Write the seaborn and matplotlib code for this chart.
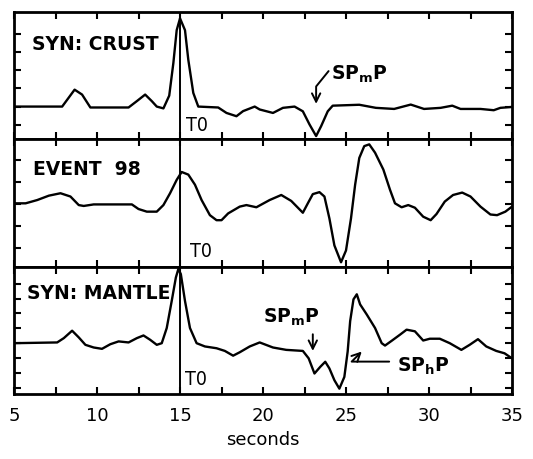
import numpy as np
import pandas as pd
import matplotlib
matplotlib.use("Agg")
import matplotlib.pyplot as plt
import seaborn as sns
from matplotlib.ticker import MultipleLocator

# ---------------- data (time in seconds, relative amplitude) ----------------
crust_t = [5.0, 7.9, 8.65, 9.1, 9.6, 10.1, 11.9, 12.4, 12.9, 13.3, 13.6, 14.0, 14.35, 14.6,
           14.8, 15.0, 15.3, 15.5, 15.8, 16.1, 17.3, 17.8, 18.4, 18.8, 19.5, 19.8, 20.6, 21.2,
           21.9, 22.4, 22.8, 23.2, 23.5, 23.9, 24.2, 25.8, 26.8, 27.9, 28.9, 29.7, 30.7, 31.4,
           31.9, 33.1, 33.9, 34.3, 35.0]
crust_a = [0.0, 0.0, 0.93, 0.66, -0.05, -0.05, -0.05, 0.3, 0.66, 0.3, 0.0, -0.1, 0.6, 2.4,
           4.2, 4.85, 4.2, 2.57, 0.75, 0.0, -0.05, -0.35, -0.53, -0.25, 0.0, -0.16, -0.35, -0.07,
           0.0, -0.26, -0.98, -1.62, -1.08, -0.26, 0.05, 0.1, -0.07, -0.13, 0.11, -0.13, -0.07, 0.05,
           -0.13, -0.13, -0.2, -0.07, -0.02]

event_t = [5.0, 5.7, 6.4, 7.1, 7.8, 8.4, 8.9, 9.2, 9.8, 12.1, 12.5, 13.0, 13.6, 14.0, 14.4,
           14.8, 15.1, 15.5, 15.9, 16.3, 16.8, 17.2, 17.5, 17.9, 18.6, 19.0, 19.6, 20.4, 21.1, 21.7,
           22.4, 22.7, 23.0, 23.4, 23.7, 24.0, 24.3, 24.7, 25.0, 25.3, 25.55, 25.8, 26.1, 26.4, 26.75,
           27.25, 27.65, 27.95, 28.35, 28.75, 29.15, 29.65, 30.1, 30.45, 30.95, 31.45, 32.0, 32.5,
           33.1, 33.7, 34.1, 34.6, 35.0]
event_a = [0.03, 0.03, 0.18, 0.38, 0.49, 0.34, -0.05, -0.09, -0.02, -0.02, -0.23, -0.35, -0.35,
           -0.05, 0.49, 1.1, 1.46, 1.34, 0.88, 0.18, -0.51, -0.74, -0.74, -0.43, -0.12, -0.05, -0.15,
           0.18, 0.41, 0.14, -0.4, 0.03, 0.45, 0.54, 0.34, -0.66, -1.89, -2.66, -2.12, -0.66, 0.88,
           2.1, 2.64, 2.72, 2.34, 1.57, 0.65, 0.03, -0.15, -0.05, -0.17, -0.58, -0.74, -0.46, 0.11,
           0.41, 0.52, 0.34, -0.12, -0.48, -0.51, -0.35, -0.12]

mantle_t = [5.0, 7.6, 8.0, 8.5, 8.9, 9.3, 9.8, 10.3, 10.8, 11.3, 11.9, 12.4, 12.8, 13.2, 13.6,
            13.9, 14.2, 14.5, 14.75, 14.9, 15.05, 15.3, 15.6, 16.0, 16.5, 17.2, 17.7, 18.2, 18.6,
            19.2, 19.8, 20.6, 21.4, 22.4, 22.75, 23.1, 23.45, 23.75, 24.0, 24.3, 24.6, 24.9, 25.1,
            25.25, 25.45, 25.65, 25.85, 26.25, 26.75, 27.15, 27.35, 27.75, 28.25, 28.65, 29.15,
            29.65, 30.05, 30.65, 31.25, 31.95, 32.45, 32.95, 33.45, 34.05, 34.55, 35.0]
mantle_a = [0.0, 0.05, 0.34, 0.84, 0.39, -0.11, -0.29, -0.38, -0.07, 0.12, 0.05, 0.34, 0.52,
            0.23, -0.11, 0.0, 1.02, 2.84, 4.42, 4.99, 4.65, 2.84, 1.02, 0.0, -0.22, -0.34, -0.52,
            -0.84, -0.61, -0.22, 0.05, -0.29, -0.45, -0.52, -1.02, -2.04, -1.59, -1.25, -1.7, -2.49,
            -3.06, -2.27, -0.56, 1.48, 2.95, 3.29, 2.61, 1.93, 1.02, 0.0, -0.16, 0.16, 0.57, 0.91,
            0.8, 0.18, 0.3, 0.3, 0.0, -0.45, -0.11, 0.27, -0.22, -0.52, -0.68, -1.02]

panel_labels = ["SYN: CRUST", "EVENT  98", "SYN: MANTLE"]
x_tick_values = [5, 10, 15, 20, 25, 30, 35]
t0 = 15.0

# ---------------- figure ----------------
sns.set_theme(style="ticks")
plt.rcParams['font.family'] = ['DejaVu Sans']
plt.rcParams['text.color'] = 'black'
plt.rcParams['axes.labelcolor'] = 'black'
plt.rcParams['xtick.color'] = 'black'
plt.rcParams['ytick.color'] = 'black'

fig = plt.figure(figsize=(5.33, 4.59), dpi=100)
gs = fig.add_gridspec(3, 1, left=0.0263, right=0.9606, top=0.9739, bottom=0.1416, hspace=0)
axes = [fig.add_subplot(gs[i]) for i in range(3)]

traces = [(crust_t, crust_a), (event_t, event_a), (mantle_t, mantle_a)]
ylims = [(-1.8, 5.2), (-2.86, 2.95), (-3.42, 5.15)]
yticks = [range(-1, 5), range(-2, 3), range(-3, 5)]
label_pos = [(6.07, 3.1), (6.15, 1.34), (5.8, 2.97)]
t0_text = [(15.35, -1.35), (15.6, -2.43), (15.3, -2.83)]
t0_span = [(0.055, 0.96), (0.048, 0.95), (0.0, 1.0)]

for i, ax in enumerate(axes):
    t, a = traces[i]
    df = pd.DataFrame({"seconds": t, "amp": a})
    sns.lineplot(data=df, x="seconds", y="amp", ax=ax, color="black", lw=1.7,
                 estimator=None, sort=False)
    ax.set_xlim(5, 35)
    ax.set_ylim(*ylims[i])
    ax.set_yticks(list(yticks[i]))
    ax.set_yticklabels([])
    ax.xaxis.set_major_locator(MultipleLocator(5))
    ax.xaxis.set_minor_locator(MultipleLocator(2.5))
    ax.tick_params(which='both', direction='in', top=True, right=True, bottom=True, left=True,
                   length=5, width=1.5, color='black')
    for s in ax.spines.values():
        s.set_linewidth(2)
        s.set_color('black')
    ax.set_ylabel("")
    ax.set_xlabel("")
    ax.axvline(t0, ymin=t0_span[i][0], ymax=t0_span[i][1], color='black', lw=1.4)
    ax.text(*t0_text[i], "T0", fontsize=14, fontstretch='condensed', color='black',
            va='baseline', ha='left')
    ax.text(*label_pos[i], panel_labels[i], fontsize=13.5, fontweight='bold', color='black',
            va='baseline', ha='left')
    if i < 2:
        ax.set_xticklabels([])

axes[2].set_xticks(x_tick_values)
axes[2].set_xticklabels([str(v) for v in x_tick_values], fontsize=13, color='black')
axes[2].tick_params(axis='x', which='major', pad=9)
axes[2].set_xlabel("seconds", fontsize=13, labelpad=5, color='black')

arrow_kw = dict(arrowstyle='->,head_length=0.5,head_width=0.25', color='black', lw=1.4,
                shrinkA=0, shrinkB=0)

# panel 1: SPmP
ax = axes[0]
ax.text(24.1, 1.48, r'SP$_{\mathbf{m}}$P', fontsize=13.5, fontweight='bold', color='black',
        va='baseline')
ax.annotate('', xy=(23.2, 0.15), xytext=(23.95, 1.95),
            arrowprops=dict(connectionstyle='angle,angleA=51,angleB=90,rad=0', **arrow_kw))

# panel 3: SPmP and SPhP
ax = axes[2]
ax.text(20.0, 1.41, r'SP$_{\mathbf{m}}$P', fontsize=13.5, fontweight='bold', color='black',
        va='baseline')
ax.annotate('', xy=(23.0, -0.52), xytext=(23.0, 0.6), arrowprops=dict(**arrow_kw))
ax.text(28.1, -1.93, r'SP$_{\mathbf{h}}$P', fontsize=13.5, fontweight='bold', color='black',
        va='baseline')
ax.annotate('', xy=(25.95, -0.56), xytext=(27.6, -1.24),
            arrowprops=dict(connectionstyle='angle,angleA=0,angleB=45,rad=0', **arrow_kw))

fig.savefig("out.png", dpi=100, facecolor='white')
